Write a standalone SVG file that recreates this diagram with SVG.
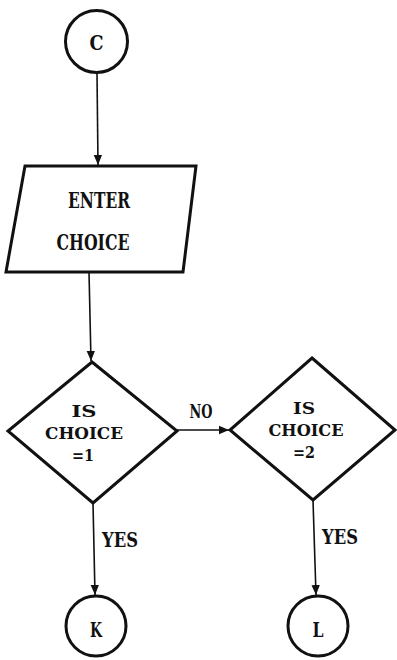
<svg xmlns="http://www.w3.org/2000/svg" width="397" height="660" viewBox="0 0 397 660">
<style>
.sh{fill:none;stroke:#111;stroke-width:3}
.cn{fill:none;stroke:#111;stroke-width:1.6}
.t{font-family:"DejaVu Serif","Liberation Serif",serif;font-weight:bold;fill:#111;text-anchor:middle}
.d{font-size:17.5px}
</style>
<defs>
<marker id="ah" markerUnits="userSpaceOnUse" markerWidth="10" markerHeight="14" refX="12" refY="5" orient="auto" viewBox="0 0 12 10">
<path d="M0,0 L12,5 L0,10 Z" fill="#111"/>
</marker>
</defs>
<rect width="397" height="660" fill="#fff"/>
<g id="C">
<circle class="sh" cx="96.5" cy="41.5" r="31"/>
<text class="t" x="96.5" y="50" font-size="21" textLength="14" lengthAdjust="spacingAndGlyphs">C</text>
</g>
<g id="enter">
<polygon class="sh" points="25,166 196,166 183,272 6,272"/>
<text class="t" x="99" y="208" font-size="22" textLength="62" lengthAdjust="spacingAndGlyphs">ENTER</text>
<text class="t" x="93" y="250" font-size="22" textLength="73" lengthAdjust="spacingAndGlyphs">CHOICE</text>
</g>
<g id="d1">
<polygon class="sh" points="92,362 177,431 93,503 8,431"/>
<text class="t d" x="84" y="417" textLength="25" lengthAdjust="spacingAndGlyphs">IS</text>
<text class="t d" x="84" y="439" textLength="78" lengthAdjust="spacingAndGlyphs">CHOICE</text>
<text class="t d" x="83" y="461" textLength="22" lengthAdjust="spacingAndGlyphs">=1</text>
</g>
<g id="d2">
<polygon class="sh" points="312,358 395,430 313,500 230,430"/>
<text class="t d" x="304" y="414" textLength="22" lengthAdjust="spacingAndGlyphs">IS</text>
<text class="t d" x="306" y="436" textLength="75" lengthAdjust="spacingAndGlyphs">CHOICE</text>
<text class="t d" x="304" y="458" textLength="22" lengthAdjust="spacingAndGlyphs">=2</text>
</g>
<g id="K">
<circle class="sh" cx="96" cy="626" r="30"/>
<text class="t" x="96" y="637" font-size="21" textLength="12" lengthAdjust="spacingAndGlyphs">K</text>
</g>
<g id="L">
<circle class="sh" cx="318" cy="626" r="30"/>
<text class="t" x="318" y="637" font-size="21" textLength="11" lengthAdjust="spacingAndGlyphs">L</text>
</g>
<g id="connectors">
<line class="cn" x1="97" y1="73" x2="98" y2="165" marker-end="url(#ah)"/>
<line class="cn" x1="89" y1="272" x2="91" y2="361" marker-end="url(#ah)"/>
<line class="cn" x1="177" y1="430" x2="229" y2="430" marker-end="url(#ah)"/>
<line class="cn" x1="93" y1="503" x2="95" y2="595" marker-end="url(#ah)"/>
<line class="cn" x1="313" y1="500" x2="316" y2="595" marker-end="url(#ah)"/>
<text class="t" x="201" y="418" font-size="19" textLength="23" lengthAdjust="spacingAndGlyphs">NO</text>
<text class="t" x="120" y="547" font-size="21" textLength="36" lengthAdjust="spacingAndGlyphs">YES</text>
<text class="t" x="340" y="544" font-size="21" textLength="36" lengthAdjust="spacingAndGlyphs">YES</text>
</g>
</svg>
